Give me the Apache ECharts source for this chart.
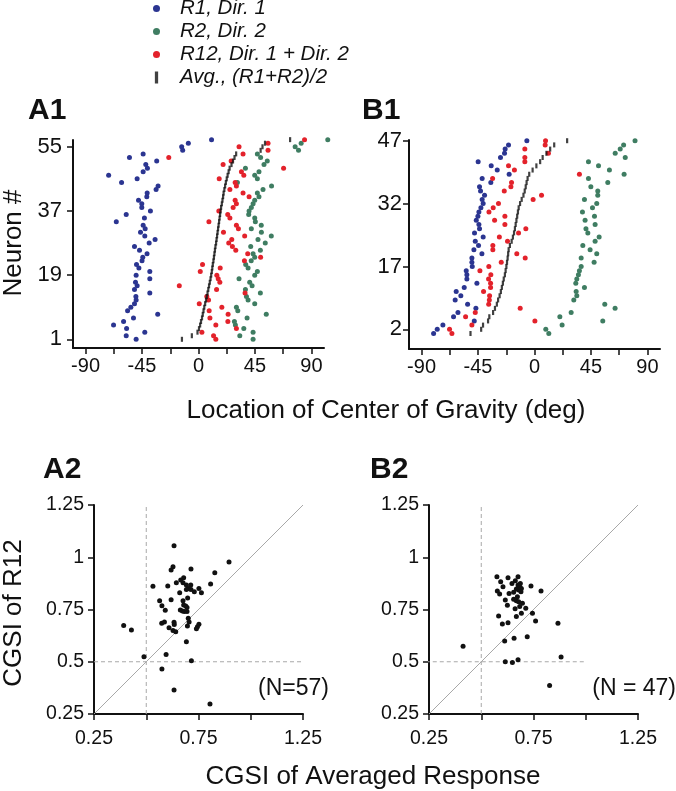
<!DOCTYPE html>
<html><head><meta charset="utf-8">
<script src="https://cdn.jsdelivr.net/npm/echarts@6/dist/echarts.min.js"></script>
<style>html,body{margin:0;padding:0;background:#fff}#c{width:676px;height:791px}</style>
</head><body><div id="c"></div>
<script>
// ---------- DATA ----------
// A1: center-of-gravity location (deg) per neuron 1..57
const a1Blue = [-49.7,-57.6,-42.8,-57.3,-67.7,-59.7,-51.8,-32.5,-56.5,-53.9,-51,-49.7,-49.9,-38.8,-51,-48.9,-50.2,-38.8,-49.7,-38.8,-47.5,-49.4,-45,-44.4,-41,-47,-51,-39.3,-34.6,-42.8,-46.2,-42.5,-44.1,-65.5,-43.1,-57.6,-38.3,-45.2,-45.2,-47.8,-41.2,-40.9,-33.8,-32.2,-61.3,-48.9,-71.6,-44.1,-40.7,-42,-33.3,-55,-44.1,-12.6,-13.4,-8.1,10.4];
const a1Green = [43.5,32.9,43.5,36.1,29.4,28.6,38.7,54,31.3,30.2,44.8,39.5,38.2,49.3,37.4,42.7,40.8,32.3,44.8,46.9,39.5,37.6,42,44.8,43.5,49.3,41.6,53.2,47.4,58,50.1,42.1,50,45.3,44.8,40,40.3,42.1,43.5,44.8,48.2,46.9,51.4,58.2,31,46.9,44.8,48.2,37.4,52.2,54.8,49.5,46.9,79.7,77,81.8,103];
const a1Red = [13.8,12,2.7,30.2,13.8,23.4,9.1,23.6,8.5,18.6,0.6,8,6.6,37.1,14.4,-15.3,17,15.7,14.6,1.4,17.3,3.2,36.6,49.5,39.2,29.7,27,24.1,26.5,36.8,19.9,31.8,30.2,8.3,25,23.3,16.2,27.6,30.2,29.2,40.3,35.5,25,30.2,29.2,16.5,36.1,34.2,67.8,19.6,26,-23.7,35.5,55.4,32.3,55.4,84.5];
const a1Avg = [-13.2,-5.3,-0.8,0.4,1.3,2,2.8,3.4,4,4.6,5.3,6,6.6,7.2,7.8,8.4,9,9.6,10.1,10.6,11,11.4,11.9,12.3,12.7,13.1,13.5,14,14.4,14.8,15.2,15.6,16,16.4,16.8,17.2,17.6,18,18.6,19.1,19.6,20,20.6,21.2,21.8,22.5,23.2,24,24.8,26.3,27.5,28.7,30,49.5,51,53,73];
// B1: per neuron 1..47
const b1Blue = [-80.4,-77.5,-73,-48,-64.5,-61,-46.7,-53.3,-63.2,-58.7,-62.4,-56,-45.9,-53.9,-53.9,-54.4,-49.6,-49.9,-49.9,-41.9,-48.3,-44.6,-47.2,-40.9,-47.8,-43.8,-44.3,-46.4,-45.1,-44.3,-42.7,-40.9,-41.7,-39.8,-43,-43.8,-34.8,-41.7,-20.2,-29.7,-34.5,-44.9,-27.1,-23.9,-23.4,-20.7,-6.1];
const b1Green = [11.4,9,22,54.4,20.2,29.2,64.2,56,31.3,33.7,33.2,39.8,32.9,33.7,35,35.8,37.2,47.5,37.2,49.6,44.3,38.5,48.3,51.5,42.5,41,48.3,40.3,47.8,38.2,46.2,49.6,39.8,50.4,50.4,44.9,58.4,43,71.4,59.7,51,43,72.3,64.3,68.3,71,80.1];
const b1Red = [-65.8,-67.7,-49.9,0.3,-54.9,-47.2,-11.4,-36.5,-36,-35.8,-40.6,-35,-35,-36.6,-34.8,-43.5,-36.4,-26.5,-7.4,-14.1,-33.2,-33.2,-21.5,-28,-12.7,-6.9,-23.6,-31.8,-23.6,-36.3,-32.9,-28.7,-1.1,5.6,-24.1,-18.8,-18.3,-33.4,35.8,-16,-20.7,-7.7,-7.7,11.1,-7.7,8.5,8.8];
const b1Avg = [-51,-42.5,-41,-37,-36,-33,-31.5,-30,-29,-27.8,-26.8,-26,-25.2,-24.5,-23.6,-23,-22.4,-21.9,-21.4,-21,-20.6,-19.6,-18.2,-17.2,-16.3,-15.6,-15,-14.4,-13.8,-13.2,-12.6,-11.5,-10.2,-8.8,-7.8,-7,-6.3,-5.5,-4.2,-1.5,1.5,4.5,6.5,9.5,12.5,15.7,26];
// A2 / B2: CGSI of averaged response (x) vs CGSI of R12 (y)
const a2X = [0.633,0.896,0.628,0.619,0.714,0.828,0.679,0.532,0.603,0.644,0.676,0.692,0.713,0.701,0.692,0.714,0.808,0.752,0.764,0.730,0.660,0.698,0.564,0.619,0.676,0.679,0.689,0.695,0.575,0.591,0.663,0.673,0.682,0.695,0.701,0.574,0.587,0.633,0.634,0.705,0.697,0.752,0.745,0.740,0.609,0.628,0.641,0.392,0.429,0.692,0.489,0.595,0.716,0.575,0.633,0.805,0.665];
const a2Y = [1.055,0.977,0.955,0.939,0.944,0.926,0.902,0.861,0.862,0.878,0.878,0.867,0.867,0.851,0.846,0.846,0.872,0.850,0.830,0.835,0.830,0.805,0.792,0.797,0.792,0.772,0.767,0.760,0.768,0.746,0.748,0.743,0.740,0.740,0.708,0.684,0.690,0.689,0.678,0.690,0.671,0.679,0.668,0.658,0.663,0.649,0.644,0.674,0.652,0.596,0.524,0.535,0.505,0.465,0.365,0.298,0.891];
const b2X = [0.575,0.628,0.676,0.593,0.647,0.663,0.676,0.684,0.692,0.679,0.690,0.668,0.738,0.786,0.577,0.588,0.633,0.655,0.615,0.655,0.668,0.679,0.697,0.625,0.662,0.713,0.692,0.745,0.668,0.583,0.601,0.628,0.760,0.867,0.612,0.657,0.720,0.413,0.615,0.649,0.676,0.882,0.827,0.687,0.673,0.604,0.684];
const b2Y = [0.907,0.902,0.907,0.883,0.875,0.888,0.867,0.859,0.851,0.843,0.835,0.848,0.862,0.838,0.838,0.824,0.827,0.832,0.796,0.799,0.792,0.787,0.780,0.770,0.754,0.756,0.732,0.732,0.716,0.719,0.681,0.687,0.695,0.684,0.599,0.612,0.620,0.574,0.500,0.497,0.510,0.523,0.386,0.875,0.811,0.859,0.764];
// tick values / labels
const degTicks = [-90,-67.5,-45,-22.5,0,22.5,45,67.5,90];
const degLabels = [-90,-45,0,45,90];
const a1NeuronLabels = [1,19,37,55];
const b1NeuronLabels = [2,17,32,47];
const cgsiTicks = [0.25,0.5,0.75,1,1.25];
const cgsiXLabels = [0.25,0.75,1.25];
const diagLine = [[0.25,0.25],[1.25,1.25]];
const vDash = [[0.5,0.25],[0.5,1.25]];
const hDashA = [[0.25,0.5],[1.25,0.5]];
const hDashB = [[0,0.5],[1.0,0.5]];
const names = ['R1, Dir. 1','R2, Dir. 2','R12, Dir. 1 + Dir. 2','Avg., (R1+R2)/2'];
// ---------- STYLE ----------
const FONT = '"Liberation Sans", Arial, Helvetica, sans-serif';
const C_BLUE = '#2b3591', C_GREEN = '#3f7d62', C_RED = '#e3222b', C_BLACK = '#111';

function axis(grid, min, max, ticks, labels, margin, fs){
  return {
    type:'value', gridIndex:grid, min:min, max:max,
    axisLine:{show:true, onZero:false, lineStyle:{color:'#111', width:2}},
    axisTick:{show:true, customValues:ticks, length:6, lineStyle:{color:'#111', width:1.5}},
    axisLabel:{show:true, customValues:labels, margin:margin, fontSize:fs, color:'#111', fontFamily:FONT},
    splitLine:{show:false}
  };
}
const toPts = arr => arr.map((v,i)=>[v,i+1]);
function dots(name, data, xi, color, size){
  return {type:'scatter', name:name, xAxisIndex:xi, yAxisIndex:xi, data:data, symbol:'circle', symbolSize:size,
    itemStyle:{color:color, opacity:1}, clip:false, silent:true, animation:false};
}
function ticksSeries(name, data, xi){
  return {type:'scatter', name:name, xAxisIndex:xi, yAxisIndex:xi, data:data, symbol:'rect', symbolSize:[2.2,5],
    itemStyle:{color:C_BLACK}, clip:false, silent:true, animation:false, z:3};
}
function guide(data, xi, dashed){
  return {type:'line', xAxisIndex:xi, yAxisIndex:xi, data:data, symbol:'none', clip:false, silent:true, animation:false,
    lineStyle:{color:'#a8a8a8', width:1, type: dashed ? [4,3] : 'solid'}, z:1};
}
const zip = (xs,ys) => xs.map((x,i)=>[x,ys[i]]);

const chart = echarts.init(document.getElementById('c'), null, {renderer:'canvas'});
chart.setOption({
  animation:false,
  backgroundColor:'#fff',
  legend:{
    data:[{name:names[0], icon:'circle'},{name:names[1], icon:'circle'},{name:names[2], icon:'circle'},
          {name:names[3], icon:'path://M0,0h3v11h-3z'}],
    orient:'vertical', left:153, top:-3, itemWidth:7, itemHeight:12, itemGap:0, padding:0,
    selectedMode:false, symbolKeepAspect:true,
    textStyle:{fontStyle:'italic', fontSize:20.5, lineHeight:23, color:'#111', fontFamily:FONT, padding:[0,0,0,15]}
  },
  grid:[
    {left:73, top:140, width:251, height:208},
    {left:409, top:140, width:251, height:209},
    {left:94, top:505, width:209, height:209},
    {left:429, top:505, width:209, height:209}
  ],
  xAxis:[
    axis(0,-100,100,degTicks,degLabels,8,20),
    axis(1,-100,100,degTicks,degLabels,8,20),
    axis(2,0.25,1.25,cgsiTicks,cgsiXLabels,15,19.5),
    axis(3,0.25,1.25,cgsiTicks,cgsiXLabels,15,19.5)
  ],
  yAxis:[
    axis(0,-1.44,56.9,a1NeuronLabels,a1NeuronLabels,11,22),
    axis(1,-2.7,47.17,b1NeuronLabels,b1NeuronLabels,7,22),
    axis(2,0.25,1.25,cgsiTicks,cgsiTicks,10,19.5),
    axis(3,0.25,1.25,cgsiTicks,cgsiTicks,10,19.5)
  ],
  series:[
    ticksSeries(names[3], toPts(a1Avg), 0),
    dots(names[0], toPts(a1Blue), 0, C_BLUE, 5),
    dots(names[1], toPts(a1Green), 0, C_GREEN, 5),
    dots(names[2], toPts(a1Red), 0, C_RED, 5),
    ticksSeries(names[3], toPts(b1Avg), 1),
    dots(names[0], toPts(b1Blue), 1, C_BLUE, 5),
    dots(names[1], toPts(b1Green), 1, C_GREEN, 5),
    dots(names[2], toPts(b1Red), 1, C_RED, 5),
    guide(diagLine,2,false), guide(vDash,2,true), guide(hDashA,2,true),
    guide(diagLine,3,false), guide(vDash,3,true), guide(hDashB,3,true),
    dots('A2', zip(a2X,a2Y), 2, C_BLACK, 5),
    dots('B2', zip(b2X,b2Y), 3, C_BLACK, 5)
  ],
  graphic:[
    {type:'text', x:28, y:111, style:{text:'A1', font:'bold 30px '+FONT, fill:'#111', textVerticalAlign:'middle'}},
    {type:'text', x:362, y:111, style:{text:'B1', font:'bold 30px '+FONT, fill:'#111', textVerticalAlign:'middle'}},
    {type:'text', x:43, y:470, style:{text:'A2', font:'bold 30px '+FONT, fill:'#111', textVerticalAlign:'middle'}},
    {type:'text', x:370, y:470, style:{text:'B2', font:'bold 30px '+FONT, fill:'#111', textVerticalAlign:'middle'}},
    {type:'text', x:386, y:411, style:{text:'Location of Center of Gravity (deg)', font:'26px '+FONT, fill:'#111', textAlign:'center', textVerticalAlign:'middle'}},
    {type:'text', x:373, y:777, style:{text:'CGSI of Averaged Response', font:'26px '+FONT, fill:'#111', textAlign:'center', textVerticalAlign:'middle'}},
    {type:'text', x:14, y:243, rotation:Math.PI/2, style:{text:'Neuron #', font:'26px '+FONT, fill:'#111', textAlign:'center', textVerticalAlign:'middle'}},
    {type:'text', x:14, y:613, rotation:Math.PI/2, style:{text:'CGSI of R12', font:'26px '+FONT, fill:'#111', textAlign:'center', textVerticalAlign:'middle'}},
    {type:'text', x:329, y:689, style:{text:'(N=57)', font:'23px '+FONT, fill:'#111', textAlign:'right', textVerticalAlign:'middle'}},
    {type:'text', x:676, y:689, style:{text:'(N = 47)', font:'23px '+FONT, fill:'#111', textAlign:'right', textVerticalAlign:'middle'}}
  ]
});
</script></body></html>
